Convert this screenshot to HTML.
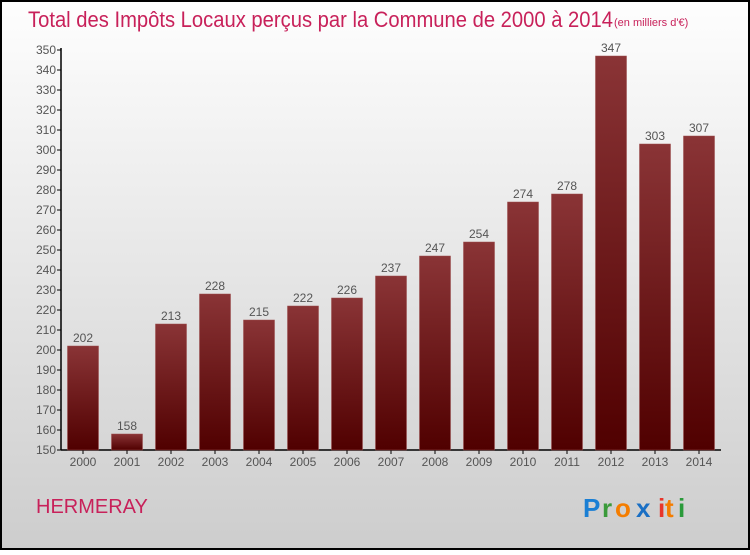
<!DOCTYPE html>
<html><head><meta charset="utf-8"><style>
html,body{margin:0;padding:0}
body{width:750px;height:550px;overflow:hidden;font-family:"Liberation Sans",sans-serif}
</style></head><body>
<svg width="750" height="550" xmlns="http://www.w3.org/2000/svg">
<defs>
<linearGradient id="bg" x1="0" y1="0" x2="0" y2="1"><stop offset="0" stop-color="#fefefe"/><stop offset="1" stop-color="#cdcdcd"/></linearGradient>
<linearGradient id="bar" x1="0" y1="0" x2="0" y2="1"><stop offset="0" stop-color="#8a3436"/><stop offset="1" stop-color="#500000"/></linearGradient>
</defs>
<rect x="1" y="1" width="748" height="548" fill="url(#bg)" stroke="#000" stroke-width="2"/>
<text x="28" y="27" font-size="22" fill="#c8215a" textLength="585" lengthAdjust="spacingAndGlyphs">Total des Impôts Locaux perçus par la Commune de 2000 à 2014</text>
<text x="614" y="26" font-size="11" fill="#c8215a">(en milliers d'€)</text>
<g id="yaxis"></g>
<g id="xaxis"></g>
<g id="bars"></g>
<text x="36" y="513" font-size="20" fill="#c8215a">HERMERAY</text>
<g font-size="26" font-weight="bold">
<text x="583" y="517" fill="#1a7fd4">P</text><text x="602" y="517" fill="#3a9a3a">r</text><text x="615" y="517" fill="#f47d00">o</text><text x="636" y="517" fill="#1a6fc4">x</text><text x="658" y="517" fill="#e8352a">i</text><text x="665" y="517" fill="#f47d00">t</text><text x="678" y="517" fill="#2a9a3a">i</text>
</g>
</svg>
<script>
const years=["2000","2001","2002","2003","2004","2005","2006","2007","2008","2009","2010","2011","2012","2013","2014"];
const values=[202,158,213,228,215,222,226,237,247,254,274,278,347,303,307];
const yTicks=[150,160,170,180,190,200,210,220,230,240,250,260,270,280,290,300,310,320,330,340,350];
const NS="http://www.w3.org/2000/svg";
const X0=61,X1=721,band=(X1-X0)/years.length,bw=31;
function y(v){return 450-(v-150)*2;}
function x(i){return X0+band*i+(band-bw)/2;}
function mk(t,a,p){const e=document.createElementNS(NS,t);for(const k in a)e.setAttribute(k,a[k]);p.appendChild(e);return e;}
const ya=document.getElementById('yaxis'),xa=document.getElementById('xaxis'),bg=document.getElementById('bars');
mk('line',{x1:X0,y1:48,x2:X0,y2:450,stroke:'#000','stroke-width':1.5},ya);
yTicks.forEach(v=>{
 mk('line',{x1:X0-4,y1:y(v),x2:X0,y2:y(v),stroke:'#000'},ya);
 const t=mk('text',{x:X0-5,y:y(v)+4,'font-size':12,fill:'#555','text-anchor':'end'},ya);
 
 
 t.textContent=v;
});
mk('line',{x1:X0,y1:450,x2:X1,y2:450,stroke:'#000','stroke-width':1.5},xa);
years.forEach((yr,i)=>{
 const cx=x(i)+bw/2;
 mk('line',{x1:cx,y1:450,x2:cx,y2:454,stroke:'#000'},xa);
 const t=mk('text',{x:cx,y:466,'font-size':12,fill:'#555','text-anchor':'middle'},xa);
 
 
 t.textContent=yr;
 const r=mk('rect',{x:x(i),y:y(values[i]),width:bw,height:450-y(values[i]),fill:'url(#bar)',stroke:'#9a4a4a','stroke-width':0.5},bg);
 
 
 const l=mk('text',{x:cx,y:y(values[i])-4,'font-size':12,fill:'#555','text-anchor':'middle'},bg);
 
 
 l.textContent=values[i];
});
</script>
</body></html>
